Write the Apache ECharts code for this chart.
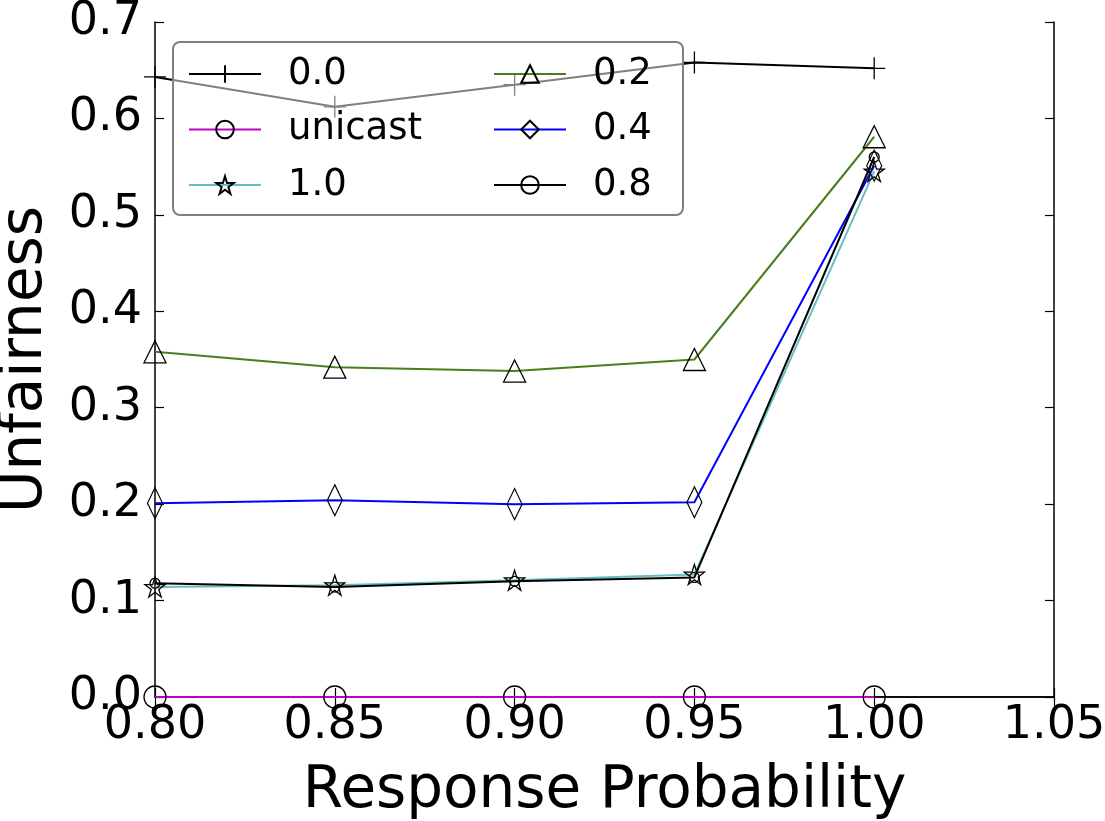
<!DOCTYPE html>
<html lang="en" style="height: 100%;">
<head>
    <meta charset="UTF-8">
    <title>Unfairness</title>
    <script src="https://cdn.jsdelivr.net/npm/echarts@6.0.0/dist/echarts.min.js"></script>
</head>
<body style="height: 100%; margin: 0; background: #fff;">
    <div style="width: 1105px; height: 821px;" id="chart"></div>
    <script>
        // response probability on x
        var xValues = [0.80, 0.85, 0.90, 0.95, 1.00];

        // unfairness per series
        var s00 = [0.643, 0.612, 0.635, 0.658, 0.652];
        var sUnicast = [0, 0, 0, 0, 0];
        var s10 = [0.114, 0.116, 0.121, 0.127, 0.545];
        var s02 = [0.358, 0.342, 0.338, 0.350, 0.581];
        var s04 = [0.201, 0.204, 0.200, 0.202, 0.551];
        var s08 = [0.118, 0.114, 0.120, 0.124, 0.560];

        var FONT = 'DejaVu Sans';

        var plusPath = 'path://M0,10 L20,10 M10,0 L10,20';
        var starPath = 'path://M50,0 L61.23,34.55 L97.55,34.55 L68.17,55.9 L79.39,90.45 L50,69.1 L20.61,90.45 L31.83,55.9 L2.45,34.55 L38.77,34.55 Z';

        function pairs(vals) {
            return xValues.map(function (x, i) { return [x, vals[i]]; });
        }

        function makeSeries(name, vals, color, symbol, size) {
            return {
                name: name,
                type: 'line',
                data: pairs(vals),
                symbol: symbol,
                symbolSize: size,
                showAllSymbol: true,
                clip: true,
                lineStyle: { color: color, width: 2 },
                itemStyle: { color: 'rgba(0,0,0,0)', borderColor: '#000', borderWidth: 1.3 },
                emphasis: { disabled: true }
            };
        }

        var chart = echarts.init(document.getElementById('chart'));

        var legendText = { fontFamily: FONT, fontSize: 37, color: '#000', lineHeight: 40, padding: [0, 0, 0, 22] };

        var option = {
            animation: false,
            grid: { left: 155, top: 22, right: 51, bottom: 124, outerBoundsMode: 'none', containLabel: false },
            graphic: [{
                type: 'rect',
                zlevel: 1,
                z: 1,
                shape: { x: 173, y: 42, width: 510, height: 173, r: 7 },
                style: { fill: 'rgba(255,255,255,0.5)', stroke: '#808080', lineWidth: 2 }
            }],
            legend: [{
                zlevel: 1, z: 10,
                left: 183, top: 49, orient: 'vertical',
                itemWidth: 72, itemHeight: 22, itemGap: 15.5,
                textStyle: legendText,
                data: ['0.0', 'unicast', '1.0'],
                selectedMode: false
            }, {
                zlevel: 1, z: 10,
                left: 488, top: 49, orient: 'vertical',
                itemWidth: 72, itemHeight: 22, itemGap: 15.5,
                textStyle: legendText,
                data: ['0.2', '0.4', '0.8'],
                selectedMode: false
            }],
            xAxis: [{
                type: 'value', min: 0.8, max: 1.05, interval: 0.05, z: 3,
                name: 'Response Probability', nameLocation: 'middle', nameGap: 66,
                nameTextStyle: { fontFamily: FONT, fontSize: 58, color: '#000' },
                axisLine: { lineStyle: { color: '#000', width: 1.5 } },
                axisTick: { inside: true, length: 9, lineStyle: { color: '#000', width: 1.2 } },
                axisLabel: {
                    fontFamily: FONT, fontSize: 46, color: '#000', margin: 6,
                    formatter: function (v) { return v.toFixed(2); }
                },
                splitLine: { show: false }
            }, {
                type: 'value', position: 'top', min: 0.8, max: 1.05, interval: 0.05, z: 3,
                axisLine: { lineStyle: { color: '#000', width: 1.5 } },
                axisTick: { inside: true, length: 9, lineStyle: { color: '#000', width: 1.2 } },
                axisLabel: { show: false },
                splitLine: { show: false }
            }],
            yAxis: [{
                type: 'value', min: 0, max: 0.7, interval: 0.1, z: 3,
                name: 'Unfairness', nameLocation: 'middle', nameGap: 100,
                nameTextStyle: { fontFamily: FONT, fontSize: 58, color: '#000' },
                axisLine: { show: true, lineStyle: { color: '#000', width: 1.5 } },
                axisTick: { show: true, inside: true, length: 9, lineStyle: { color: '#000', width: 1.2 } },
                axisLabel: {
                    fontFamily: FONT, fontSize: 46, color: '#000', margin: 13,
                    formatter: function (v) { return v.toFixed(1); }
                },
                splitLine: { show: false }
            }, {
                type: 'value', position: 'right', min: 0, max: 0.7, interval: 0.1, z: 3,
                axisLine: { show: true, lineStyle: { color: '#000', width: 1.5 } },
                axisTick: { show: true, inside: true, length: 9, lineStyle: { color: '#000', width: 1.2 } },
                axisLabel: { show: false },
                splitLine: { show: false }
            }],
            series: [
                makeSeries('0.0', s00, '#000000', plusPath, 22),
                makeSeries('unicast', sUnicast, '#bf00bf', 'circle', 22),
                makeSeries('1.0', s10, '#66bfbf', starPath, 20),
                makeSeries('0.2', s02, '#4a7d1c', 'triangle', 22),
                makeSeries('0.4', s04, '#0000ff', 'diamond', [15, 31]),
                makeSeries('0.8', s08, '#000000', 'circle', 10)
            ]
        };

        chart.setOption(option);
    </script>
</body>
</html>
